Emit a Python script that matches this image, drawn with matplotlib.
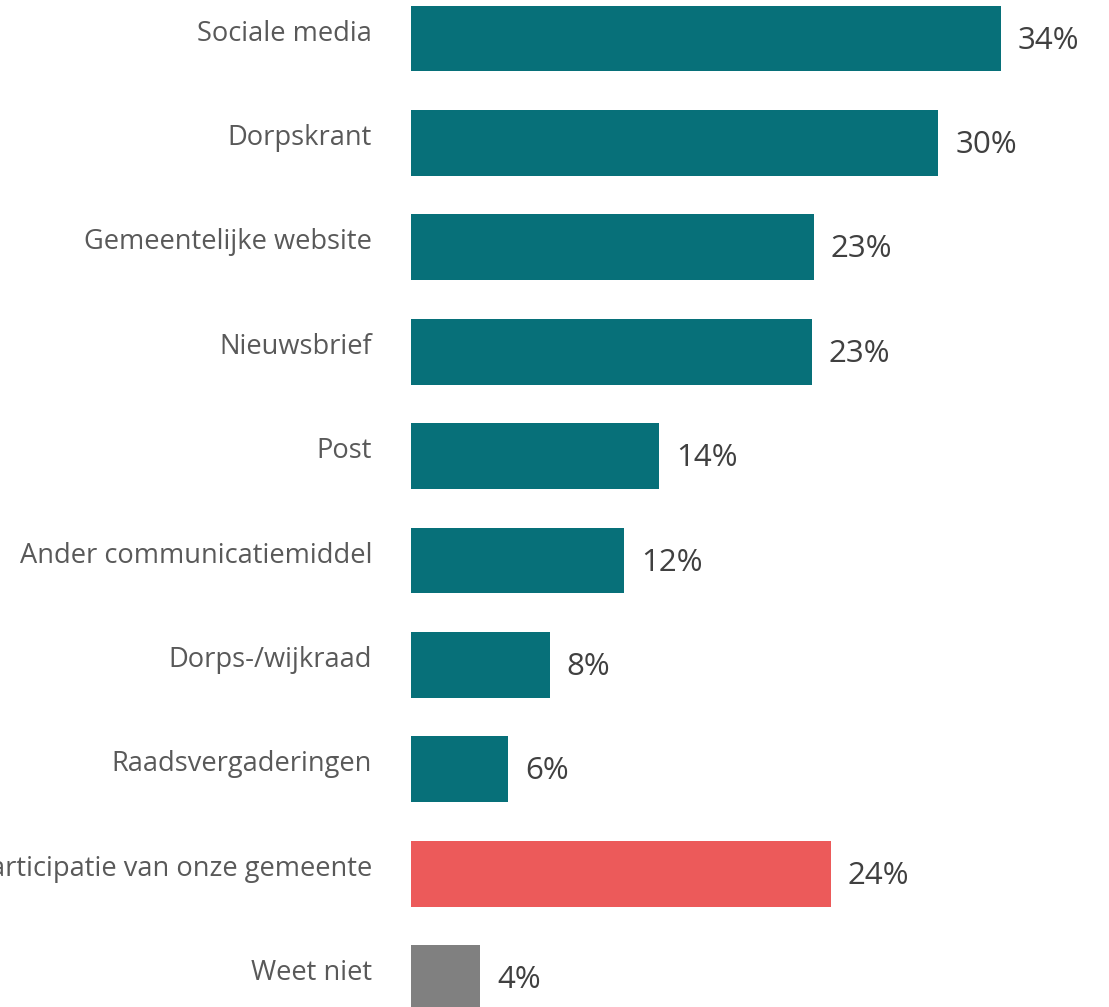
import matplotlib
matplotlib.use("Agg")
import matplotlib.pyplot as plt
import matplotlib.transforms as mtransforms
import numpy as np

# categories top to bottom
categories = [
    "Sociale media",
    "Dorpskrant",
    "Gemeentelijke website",
    "Nieuwsbrief",
    "Post",
    "Ander communicatiemiddel",
    "Dorps-/wijkraad",
    "Raadsvergaderingen",
    "Ik ben niet bekend met de participatie van onze gemeente",
    "Weet niet",
]
values = [34.0, 30.4, 23.2, 23.1, 14.3, 12.3, 8.0, 5.6, 24.2, 4.0]
value_labels = ["34%", "30%", "23%", "23%", "14%", "12%", "8%", "6%", "24%", "4%"]
bar_colors = ["#077079"] * 8 + ["#EC5A5A", "#808080"]

W, H, DPI = 1109, 1007, 100
fig = plt.figure(figsize=(W / DPI, H / DPI), dpi=DPI)

left_px = 411
ax = fig.add_axes([left_px / W, 0, 1 - left_px / W, 1])

pitch = 104.4
first_center = 38.5
y = np.arange(len(categories))
ax.barh(y, values, height=0.63, color=bar_colors)

ax.set_ylim((H - first_center) / pitch, -first_center / pitch)
ax.set_xlim(0, (W - left_px) / 17.35)
ax.axis("off")

# value labels
val_off = mtransforms.ScaledTranslation(17 / DPI, -2 / DPI, fig.dpi_scale_trans)
for yi, v, lab in zip(y, values, value_labels):
    ax.text(v, yi, lab, transform=ax.transData + val_off, ha="left", va="center",
            fontsize=22.5, color="#404040", family="Open Sans")

# category labels
cat_off = mtransforms.ScaledTranslation(-39 / DPI, 5 / DPI, fig.dpi_scale_trans)
for yi, lab in zip(y, categories):
    ax.text(0, yi, lab, transform=ax.transData + cat_off, ha="right", va="center",
            fontsize=19.6, color="#595959", family="Open Sans", clip_on=False)

fig.savefig("out.png", dpi=DPI)
